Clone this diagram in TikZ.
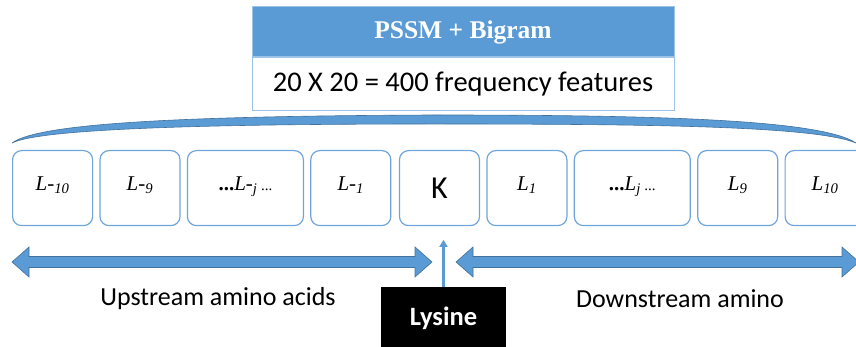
\documentclass[tikz,border=0pt]{standalone}
\usepackage{fontspec}
\setmainfont{Liberation Serif}
\setsansfont{Carlito}
\usepackage{tikz}
\usetikzlibrary{positioning,arrows.meta}

\definecolor{headblue}{HTML}{5B9BD5}
\definecolor{boxline}{HTML}{6FA5DA}
\definecolor{arrowline}{HTML}{41719C}
\definecolor{frameblue}{HTML}{9DC3E6}

\def\dots{{\upshape\fontsize{15}{18}\selectfont...}}

\begin{document}
\begin{tikzpicture}[x=1pt, y=-1pt, node distance=6.2pt, >=latex]
\tikzstyle{res} = [draw=boxline, line width=1.2pt, rounded corners=9pt, minimum width=80pt, minimum height=75pt, inner sep=0pt, text depth=9pt, font=\fontsize{21}{25}\selectfont\itshape]
\tikzstyle{wide} = [res, minimum width=116pt]
\tikzstyle{head} = [draw=frameblue, fill=headblue, line width=1pt, minimum width=422pt, minimum height=50pt, text=white, font=\fontsize{25.5}{30}\selectfont\bfseries]
\tikzstyle{feat} = [draw=frameblue, fill=white, line width=1pt, minimum width=422pt, minimum height=53pt, font=\sffamily\fontsize{28.5}{33}\selectfont]
\tikzstyle{band} = [fill=headblue, draw=arrowline, line width=0.6pt]
\tikzstyle{note} = [font=\sffamily\fontsize{26}{30}\selectfont]
\tikzstyle{lys} = [fill=black, minimum width=125pt, minimum height=62pt, text=white, font=\sffamily\bfseries\fontsize{26.5}{30}\selectfont]

\useasboundingbox (0,0) rectangle (856,347);

    % feature block on top
    \node [head] (pssm) at (463,32) {PSSM + Bigram};
    \node [feat, below=0pt of pssm] (freq) {20 X 20 = 400 frequency features};

    % curved band spanning the window
    \filldraw [band] (12,143) .. controls (40,122) and (200,116) .. (433,115)
        .. controls (650,115) and (820,119) .. (856,143)
        .. controls (815,126) and (650,124) .. (433,124)
        .. controls (200,124) and (40,129) .. cycle;

    % residues of the window
    \node [res, anchor=north west] (lm10) at (12,150) {L-\textsubscript{10}};
    \node [res, right=of lm10] (lm9) {L-\textsubscript{9}};
    \node [wide, right=of lm9] (lmj) {{\upshape\bfseries...}L-\textsubscript{j}\,\dots};
    \node [res, right=of lmj] (lm1) {L-\textsubscript{1}};
    \node [res, right=7.5pt of lm1, text depth=0pt, font=\sffamily\fontsize{32}{36}\selectfont] (k) {K};
    \node [res, right=of k] (lp1) {L\textsubscript{1}};
    \node [wide, right=of lp1] (lpj) {{\upshape\bfseries...}L\textsubscript{j}\,\dots};
    \node [res, right=of lpj] (lp9) {L\textsubscript{9}};
    \node [res, right=of lp9] (lp10) {L\textsubscript{10}};

    % up- and downstream double arrows
    \filldraw [band] (12,262) -- (29,247) -- (29,256.5) -- (415,256.5) -- (415,247) -- (432,262)
        -- (415,277) -- (415,267.5) -- (29,267.5) -- (29,277) -- cycle;
    \filldraw [band] (456,262) -- (473,247) -- (473,256.5) -- (842,256.5) -- (842,247) -- (859,262)
        -- (842,277) -- (842,267.5) -- (473,267.5) -- (473,277) -- cycle;

    \node [note] (up) at (218,299) {Upstream amino acids};
    \node [note] (down) at (680,299) {Downstream amino};

    % the central lysine
    \node [lys] (lysine) at (443.5,318) {Lysine};
    \draw [headblue, line width=2.5pt, -{Triangle[length=7pt,width=8pt]}] (lysine.north) -- ++(0,-47);

\end{tikzpicture}
\end{document}
